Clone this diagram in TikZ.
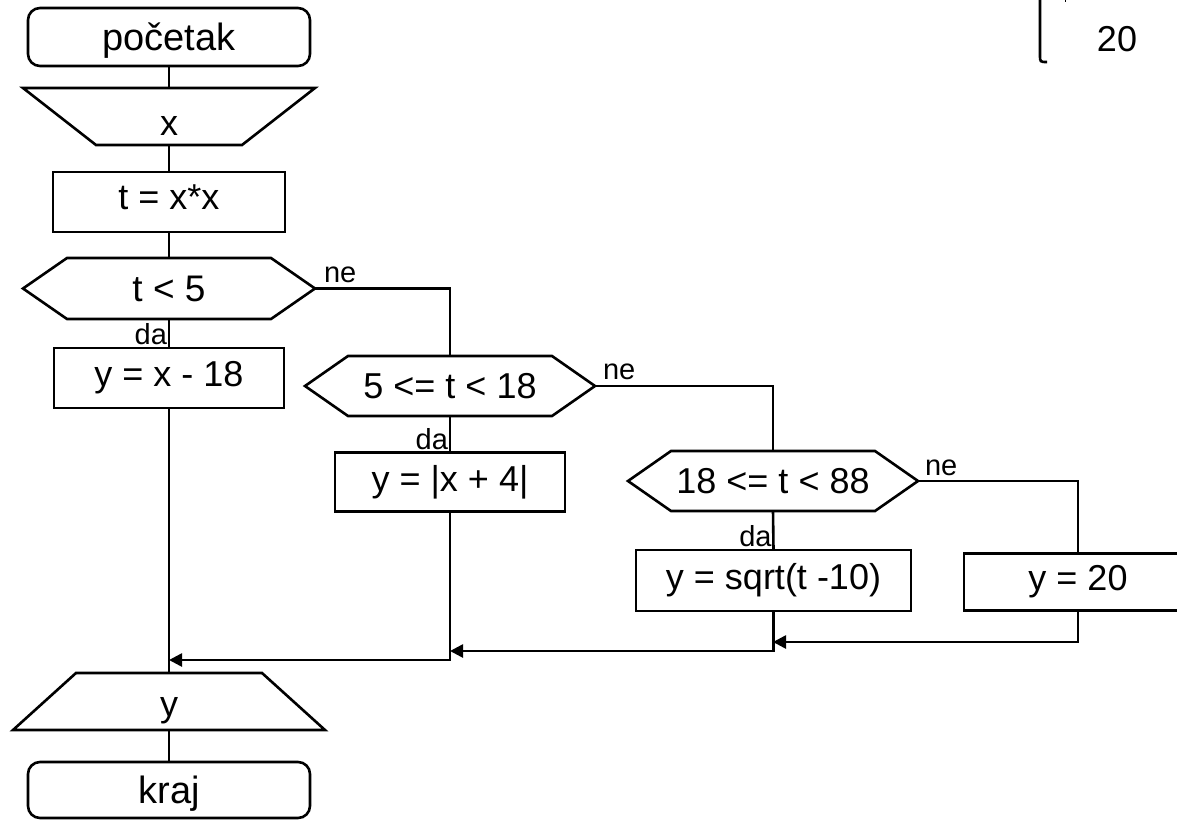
\documentclass[tikz,border=0pt]{standalone}
\usepackage{fontspec}
\setmainfont{Liberation Sans}
\usetikzlibrary{arrows.meta,calc}
\newcommand\hexout[2]{\draw (#1.west) -- ($(#1.north west)+(#2,0)$) -- ($(#1.north east)+(-#2,0)$) -- (#1.east) -- ($(#1.south east)+(-#2,0)$) -- ($(#1.south west)+(#2,0)$) -- cycle;}
\begin{document}
\begin{tikzpicture}[x=1pt,y=-1pt,line width=2.6pt,
  main/.style={font=\fontsize{36}{43}\selectfont},
  term/.style={font=\fontsize{38}{45}\selectfont},
  lbl/.style={font=\fontsize{29}{34}\selectfont,inner sep=0pt,outer sep=0pt},
  terminal/.style={draw,rounded corners=12pt,minimum width=282pt,inner sep=0pt,outer sep=0pt,term},
  procbox/.style={draw,inner sep=0pt,outer sep=0pt,main},
  frm/.style={inner sep=0pt,outer sep=0pt,main},
  arr/.style={-{Triangle[length=13pt,width=13pt]}}]
\useasboundingbox (0,0) rectangle (1177,819);
\clip (0,0) rectangle (1177,819);
% nodes
\node[terminal,minimum height=58pt,text depth=1pt] (start) at (169,37) {početak};
\node[frm,minimum width=292pt,minimum height=57pt] (in) at (169,116.5) {};
\node[main,inner sep=0pt,anchor=base] (inT) at (169,135) {x};
\node[procbox,minimum width=232pt,minimum height=60pt,text depth=9pt] (tx) at (169,202) {t = x*x};
\node[frm,minimum width=292pt,minimum height=61pt,font=\fontsize{37}{44}\selectfont] (d1) at (169,288.5) {t < 5};
\node[procbox,minimum width=230pt,minimum height=60pt] (b1) at (169,378) {y = x - 18};
\node[frm,minimum width=290pt,minimum height=60pt] (d2) at (450,386) {5 <= t < 18};
\node[procbox,minimum width=230pt,minimum height=59pt] (b2) at (450,482) {y = |x + 4|};
\node[frm,minimum width=290pt,minimum height=60pt] (d3) at (773,481) {18 <= t < 88};
\node[procbox,minimum width=275pt,minimum height=61pt] (b3) at (773.5,580.5) {y = sqrt(t -10)};
\node[procbox,minimum width=228pt,minimum height=57pt] (b4) at (1078,582) {y = 20};
\node[frm,minimum width=312pt,minimum height=57pt] (out) at (169,701.5) {};
\node[main,inner sep=0pt,anchor=base] (outT) at (169,716) {y};
\node[terminal,minimum height=56pt,text depth=0pt] (end) at (169,790) {kraj};
% outlines of special shapes
\draw (in.north west) -- (in.north east) -- ($(in.south east)+(-73,0)$) -- ($(in.south west)+(73,0)$) -- cycle;
\draw (out.south west) -- (out.south east) -- ($(out.north east)+(-63,0)$) -- ($(out.north west)+(63,0)$) -- cycle;
\hexout{d1}{44}
\hexout{d2}{43}
\hexout{d3}{43}
% labels
\node[lbl,anchor=south west] (ne1) at ($(d1.east)+(9,-6)$) {ne};
\node[lbl,anchor=south west] (ne2) at ($(d2.east)+(8,-6)$) {ne};
\node[lbl,anchor=south west] (ne3) at ($(d3.east)+(7,-5)$) {ne};
\node[lbl,anchor=south east] (da1) at ($(b1.north)+(-2,-3)$) {da};
\node[lbl,anchor=south east] (da2) at ($(b2.north)+(-2,-3)$) {da};
\node[lbl,anchor=south east] (da3) at ($(b3.north)+(-2,-3)$) {da};
% junction coordinates
\coordinate (j1) at (169,660);
\coordinate (j2) at (450,651);
\coordinate (j3) at (773,642);
% connectors
\draw (start.south) -- (in.north);
\draw (in.south) -- (tx.north);
\draw (tx.south) -- (d1.north);
\draw (d1.south) -- (b1.north);
\draw (d1.east) -| (d2.north);
\draw (d2.south) -- (b2.north);
\draw (d2.east) -| (d3.north);
\draw (d3.south) -- (b3.north);
\draw (d3.east) -| (b4.north);
\draw (b1.south) -- (out.north);
\draw[arr] (b2.south) |- (j1);
\draw[arr] (b3.south) |- (j2);
\draw[arr] (b4.south) |- (j3);
\draw (out.south) -- (end.north);
% partial element at top right
\coordinate (c1) at (1040,-3);
\coordinate (c2) at (1040,55);
\coordinate (c3) at (1047,62);
\draw (c1) -- (c2) .. controls (1040,62) .. (c3);
\draw[line width=1pt] (1065,-2) -- (1065,2);
\node[main,inner sep=0pt] (twenty) at (1117,39) {20};
\end{tikzpicture}
\end{document}
